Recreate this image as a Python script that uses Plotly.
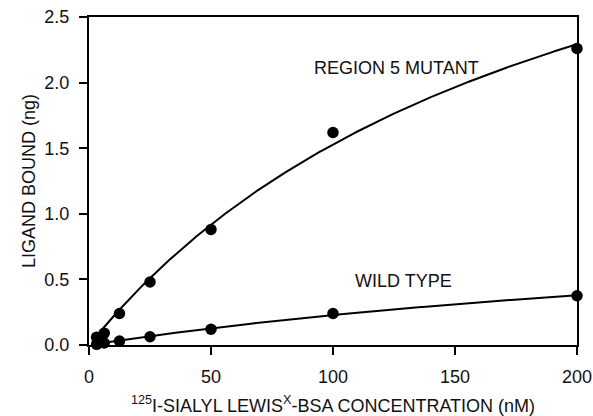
import numpy as np
import plotly.graph_objects as go

# Sialyl Lewis-x BSA binding: concentration (nM) vs ligand bound (ng)
conc = [3.125, 6.25, 12.5, 25, 50, 100, 200]
mutant_bound = [0.06, 0.09, 0.24, 0.48, 0.88, 1.62, 2.26]
wild_bound = [0.005, 0.015, 0.03, 0.063, 0.12, 0.24, 0.375]

x_ticks = [0, 50, 100, 150, 200]
y_ticks = [0.0, 0.5, 1.0, 1.5, 2.0, 2.5]


def hyperbolic_fit(x, y):
    """Least-squares fit of y = Bmax*x/(Kd+x); Kd by grid search, Bmax closed form."""
    x = np.asarray(x, float)
    y = np.asarray(y, float)
    best = None
    for kd in np.linspace(5, 3000, 6000):
        g = x / (kd + x)
        bmax = (g @ y) / (g @ g)
        err = np.sum((y - bmax * g) ** 2)
        if best is None or err < best[0]:
            best = (err, kd, bmax)
    return best[1], best[2]


xs = np.linspace(conc[0], conc[-1], 300)
kd_m, bm_m = hyperbolic_fit(conc, mutant_bound)
kd_w, bm_w = hyperbolic_fit(conc, wild_bound)

fig = go.Figure()
for bound, kd, bm in [(mutant_bound, kd_m, bm_m), (wild_bound, kd_w, bm_w)]:
    fig.add_trace(go.Scatter(x=xs, y=bm * xs / (kd + xs), mode="lines",
                             line=dict(color="black", width=2),
                             hoverinfo="skip", showlegend=False, cliponaxis=False))
    fig.add_trace(go.Scatter(x=conc, y=bound, mode="markers",
                             marker=dict(color="black", size=11.5),
                             showlegend=False, cliponaxis=False))

font_family = "Liberation Sans, Arial, sans-serif"
FS = 18
ink = "#111"

fig.add_annotation(x=91.2, y=2.11, xref="x", yref="y", text="REGION 5 MUTANT",
                   showarrow=False, xanchor="left", yanchor="middle",
                   font=dict(size=FS, color=ink))
fig.add_annotation(x=108.2, y=0.49, xref="x", yref="y", text="WILD TYPE",
                   showarrow=False, xanchor="left", yanchor="middle",
                   font=dict(size=FS, color=ink))

axis_common = dict(showline=True, linecolor="black", linewidth=2, mirror=True,
                   ticks="outside", ticklen=8, tickwidth=2, tickcolor="black",
                   showgrid=False, zeroline=False, automargin=False,
                   tickfont=dict(size=FS, color=ink))

fig.update_xaxes(range=[0, 200], tickvals=x_ticks, ticklabelstandoff=6,
                 title=dict(text="<sup>125</sup>I-SIALYL LEWIS<sup>X</sup>-BSA CONCENTRATION (nM)",
                            font=dict(size=FS, color=ink), standoff=14),
                 **axis_common)
fig.update_yaxes(range=[0, 2.5], tickvals=y_ticks, tickformat=".1f", ticklabelstandoff=6,
                 title=dict(text="LIGAND BOUND (ng)", font=dict(size=FS, color=ink),
                            standoff=4),
                 **axis_common)

fig.update_layout(width=593, height=416,
                  margin=dict(l=89, r=16, t=17, b=71),
                  plot_bgcolor="white", paper_bgcolor="white",
                  font=dict(family=font_family, color=ink))

fig.write_html("out.html")
